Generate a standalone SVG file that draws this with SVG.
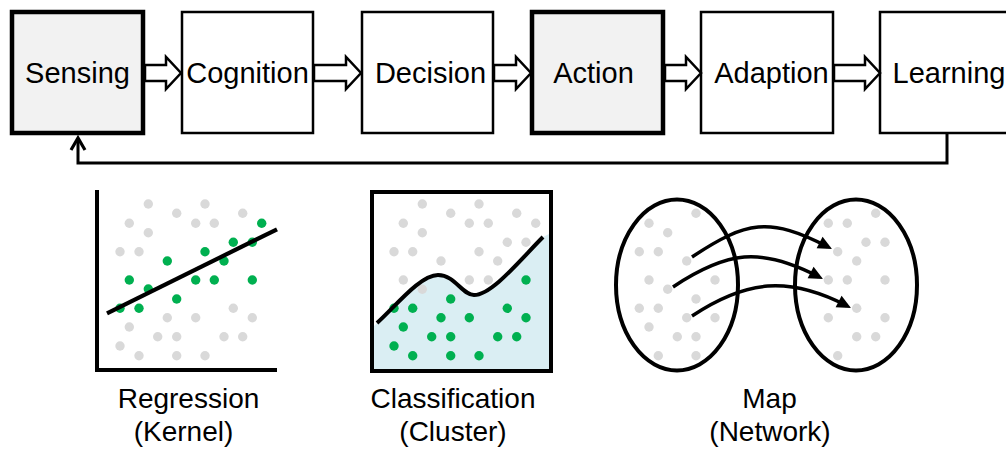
<svg xmlns="http://www.w3.org/2000/svg" width="1006" height="450" viewBox="0 0 1006 450">
  <style>
    .box { fill: #ffffff; stroke: #000000; stroke-width: 2.5; }
    .box.key { fill: #f2f2f2; stroke-width: 4.5; }
    .lbl { font-family: "Liberation Sans", Arial, sans-serif; font-size: 29px; fill: #000000; text-anchor: middle; }
    .cap { font-family: "Liberation Sans", Arial, sans-serif; font-size: 28px; fill: #000000; text-anchor: middle; }
    .flow { fill: #ffffff; stroke: #000000; stroke-width: 2.5; stroke-linejoin: miter; }
    .g { fill: #d9d9d9; }
    .n { fill: #00b050; }
    .heavy { fill: none; stroke: #000000; stroke-width: 4; }
    .map { fill: none; stroke: #000000; stroke-width: 3.5; marker-end: url(#solid); }
  </style>
  <defs>
    <marker id="chevron" markerUnits="userSpaceOnUse" orient="auto" refX="0" refY="0" overflow="visible">
      <path d="M -12 -7 L 0 0 L -12 7" fill="none" stroke="#000000" stroke-width="3.2"/>
    </marker>
    <marker id="solid" markerUnits="userSpaceOnUse" orient="auto" refX="0" refY="0" overflow="visible">
      <path d="M 5 0 L -9 -6.5 L -9 6.5 Z" fill="#000000"/>
    </marker>
  </defs>

  <!-- process chain -->
  <g id="sensing">
    <rect class="box key" x="12" y="12" width="131" height="121"/>
    <text class="lbl" x="77.5" y="83">Sensing</text>
  </g>
  <g id="cognition">
    <rect class="box" x="182" y="12" width="131" height="121"/>
    <text class="lbl" x="247.5" y="83">Cognition</text>
  </g>
  <g id="decision">
    <rect class="box" x="362" y="12" width="131" height="121"/>
    <text class="lbl" x="430.5" y="83">Decision</text>
  </g>
  <g id="action">
    <rect class="box key" x="532" y="12" width="131" height="121"/>
    <text class="lbl" x="593.5" y="83">Action</text>
  </g>
  <g id="adaption">
    <rect class="box" x="701" y="12" width="132" height="121"/>
    <text class="lbl" x="771.5" y="83">Adaption</text>
  </g>
  <g id="learning">
    <rect class="box" x="880" y="12" width="132" height="121"/>
    <text class="lbl" x="949" y="83">Learning</text>
  </g>

  <g id="connectors">
    <polygon class="flow" points="145,65 166,65 166,57 181,73 166,89 166,81 145,81"/>
    <polygon class="flow" points="314,65 346,65 346,57 361,73 346,89 346,81 314,81"/>
    <polygon class="flow" points="494,65 516,65 516,57 531,73 516,89 516,81 494,81"/>
    <polygon class="flow" points="665,65 686,65 686,57 701,73 686,89 686,81 665,81"/>
    <polygon class="flow" points="834,65 865,65 865,57 880,73 865,89 865,81 834,81"/>
    <path d="M 947 134 V 163 H 78 V 138" fill="none" stroke="#000000" stroke-width="3" marker-end="url(#chevron)"/>
  </g>

  <!-- regression panel -->
  <g id="regression">
    <g>
      <circle class="g" cx="148.3" cy="204" r="4.7"/>
      <circle class="g" cx="205" cy="204" r="4.7"/>
      <circle class="g" cx="176.7" cy="213.3" r="4.7"/>
      <circle class="g" cx="242.7" cy="213.3" r="4.7"/>
      <circle class="g" cx="129.3" cy="223.3" r="4.7"/>
      <circle class="g" cx="195.7" cy="223.3" r="4.7"/>
      <circle class="g" cx="214.3" cy="223.3" r="4.7"/>
      <circle class="g" cx="148.3" cy="232.7" r="4.7"/>
      <circle class="g" cx="120" cy="251.7" r="4.7"/>
      <circle class="g" cx="139" cy="251.7" r="4.7"/>
      <circle class="g" cx="233.3" cy="308.3" r="4.7"/>
      <circle class="g" cx="167.3" cy="317.7" r="4.7"/>
      <circle class="g" cx="195.7" cy="317.7" r="4.7"/>
      <circle class="g" cx="252.3" cy="317.7" r="4.7"/>
      <circle class="g" cx="129.3" cy="327" r="4.7"/>
      <circle class="g" cx="157.7" cy="336.7" r="4.7"/>
      <circle class="g" cx="176.7" cy="336.7" r="4.7"/>
      <circle class="g" cx="224" cy="336.7" r="4.7"/>
      <circle class="g" cx="242.7" cy="336.7" r="4.7"/>
      <circle class="g" cx="120" cy="346" r="4.7"/>
      <circle class="g" cx="139" cy="355.7" r="4.7"/>
      <circle class="g" cx="176.7" cy="355.7" r="4.7"/>
      <circle class="g" cx="205" cy="355.7" r="4.7"/>
    </g>
    <g>
      <circle class="n" cx="261.7" cy="223.3" r="4.7"/>
      <circle class="n" cx="233.3" cy="242.3" r="4.7"/>
      <circle class="n" cx="252.3" cy="242.3" r="4.7"/>
      <circle class="n" cx="205" cy="251.7" r="4.7"/>
      <circle class="n" cx="167.3" cy="261" r="4.7"/>
      <circle class="n" cx="224" cy="261" r="4.7"/>
      <circle class="n" cx="129.3" cy="280" r="4.7"/>
      <circle class="n" cx="195.7" cy="280" r="4.7"/>
      <circle class="n" cx="214.3" cy="280" r="4.7"/>
      <circle class="n" cx="252.3" cy="280" r="4.7"/>
      <circle class="n" cx="148.3" cy="289" r="4.7"/>
      <circle class="n" cx="176.7" cy="299" r="4.7"/>
      <circle class="n" cx="120" cy="308.3" r="4.7"/>
      <circle class="n" cx="139" cy="308.3" r="4.7"/>
    </g>
    <line x1="107" y1="313.3" x2="277" y2="229.3" stroke="#000000" stroke-width="4.2"/>
    <path class="heavy" d="M 97 190 V 370 H 277"/>
    <text class="cap" x="188.5" y="408">Regression</text>
    <text class="cap" x="183.5" y="441">(Kernel)</text>
  </g>

  <!-- classification panel -->
  <g id="classification">
    <path d="M 372 328 L 377 323 C 395 307, 420 275, 438 275 C 455 275, 462 295, 474 295 C 492 295, 520 260, 543 237 L 551 233 V 371 H 372 Z" fill="#daeef3"/>
    <g>
      <circle class="g" cx="422.3" cy="204" r="4.7"/>
      <circle class="g" cx="479" cy="204" r="4.7"/>
      <circle class="g" cx="450.7" cy="213.3" r="4.7"/>
      <circle class="g" cx="516.7" cy="213.3" r="4.7"/>
      <circle class="g" cx="403.3" cy="223.3" r="4.7"/>
      <circle class="g" cx="469.3" cy="223.3" r="4.7"/>
      <circle class="g" cx="488.3" cy="223.3" r="4.7"/>
      <circle class="g" cx="535.7" cy="223.3" r="4.7"/>
      <circle class="g" cx="422.3" cy="232.7" r="4.7"/>
      <circle class="g" cx="507.3" cy="242.3" r="4.7"/>
      <circle class="g" cx="526" cy="242.3" r="4.7"/>
      <circle class="g" cx="394" cy="251.7" r="4.7"/>
      <circle class="g" cx="412.7" cy="251.7" r="4.7"/>
      <circle class="g" cx="479" cy="251.7" r="4.7"/>
      <circle class="g" cx="441" cy="261" r="4.7"/>
      <circle class="g" cx="497.7" cy="261" r="4.7"/>
      <circle class="g" cx="403.3" cy="280" r="4.7"/>
      <circle class="g" cx="469.3" cy="280" r="4.7"/>
      <circle class="g" cx="488.3" cy="280" r="4.7"/>
      <circle class="g" cx="422.3" cy="289.3" r="4.7"/>
    </g>
    <g>
      <circle class="n" cx="526" cy="280" r="4.7"/>
      <circle class="n" cx="450.7" cy="299" r="4.7"/>
      <circle class="n" cx="394" cy="308.3" r="4.7"/>
      <circle class="n" cx="412.7" cy="308.3" r="4.7"/>
      <circle class="n" cx="507.3" cy="308.3" r="4.7"/>
      <circle class="n" cx="441" cy="317.7" r="4.7"/>
      <circle class="n" cx="469.3" cy="317.7" r="4.7"/>
      <circle class="n" cx="526" cy="317.7" r="4.7"/>
      <circle class="n" cx="403.3" cy="327" r="4.7"/>
      <circle class="n" cx="431.7" cy="336.7" r="4.7"/>
      <circle class="n" cx="450.7" cy="336.7" r="4.7"/>
      <circle class="n" cx="497.7" cy="336.7" r="4.7"/>
      <circle class="n" cx="516.7" cy="336.7" r="4.7"/>
      <circle class="n" cx="394" cy="346" r="4.7"/>
      <circle class="n" cx="412.7" cy="355.7" r="4.7"/>
      <circle class="n" cx="450.7" cy="355.7" r="4.7"/>
      <circle class="n" cx="479" cy="355.7" r="4.7"/>
    </g>
    <path class="heavy" d="M 377 323 C 395 307, 420 275, 438 275 C 455 275, 462 295, 474 295 C 492 295, 520 260, 543 237"/>
    <rect class="heavy" x="372" y="192" width="179" height="179"/>
    <text class="cap" x="453" y="408">Classification</text>
    <text class="cap" x="453" y="441">(Cluster)</text>
  </g>

  <!-- map panel -->
  <g id="map">
    <ellipse class="heavy" cx="677" cy="285" rx="61" ry="85.5"/>
    <ellipse class="heavy" cx="856" cy="285" rx="61" ry="85.5"/>
    <g>
      <circle class="g" cx="696" cy="213.3" r="4.7"/>
      <circle class="g" cx="649" cy="223.3" r="4.7"/>
      <circle class="g" cx="667.7" cy="232.7" r="4.7"/>
      <circle class="g" cx="639.3" cy="251.7" r="4.7"/>
      <circle class="g" cx="658.3" cy="251.7" r="4.7"/>
      <circle class="g" cx="686.7" cy="261" r="4.7"/>
      <circle class="g" cx="649" cy="280" r="4.7"/>
      <circle class="g" cx="715" cy="280" r="4.7"/>
      <circle class="g" cx="667.7" cy="289.3" r="4.7"/>
      <circle class="g" cx="696" cy="299" r="4.7"/>
      <circle class="g" cx="639.3" cy="308.3" r="4.7"/>
      <circle class="g" cx="658.3" cy="308.3" r="4.7"/>
      <circle class="g" cx="686.7" cy="317.7" r="4.7"/>
      <circle class="g" cx="715" cy="317.7" r="4.7"/>
      <circle class="g" cx="649" cy="327" r="4.7"/>
      <circle class="g" cx="677.3" cy="336.7" r="4.7"/>
      <circle class="g" cx="696" cy="336.7" r="4.7"/>
      <circle class="g" cx="658.3" cy="355.7" r="4.7"/>
      <circle class="g" cx="696" cy="355.7" r="4.7"/>
    </g>
    <g>
      <circle class="g" cx="875.7" cy="213.3" r="4.7"/>
      <circle class="g" cx="828.3" cy="223.3" r="4.7"/>
      <circle class="g" cx="847.3" cy="223.3" r="4.7"/>
      <circle class="g" cx="866" cy="242.3" r="4.7"/>
      <circle class="g" cx="885" cy="242.3" r="4.7"/>
      <circle class="g" cx="837.7" cy="251.7" r="4.7"/>
      <circle class="g" cx="856.7" cy="261" r="4.7"/>
      <circle class="g" cx="828.3" cy="280" r="4.7"/>
      <circle class="g" cx="847.3" cy="280" r="4.7"/>
      <circle class="g" cx="885" cy="280" r="4.7"/>
      <circle class="g" cx="856.7" cy="308.3" r="4.7"/>
      <circle class="g" cx="828.3" cy="317.7" r="4.7"/>
      <circle class="g" cx="885" cy="317.7" r="4.7"/>
      <circle class="g" cx="856.7" cy="336.7" r="4.7"/>
      <circle class="g" cx="875.7" cy="336.7" r="4.7"/>
      <circle class="g" cx="837.7" cy="355.7" r="4.7"/>
    </g>
    <path class="map" d="M 692 257 C 746 221, 769.6 216.7, 827.6 246.7"/>
    <path class="map" d="M 673 287 C 727 251, 760.6 246.7, 818.6 276.7"/>
    <path class="map" d="M 692 316 C 746 280, 788.6 275.7, 846.6 305.7"/>
    <text class="cap" x="769.5" y="408">Map</text>
    <text class="cap" x="770" y="441">(Network)</text>
  </g>
</svg>
